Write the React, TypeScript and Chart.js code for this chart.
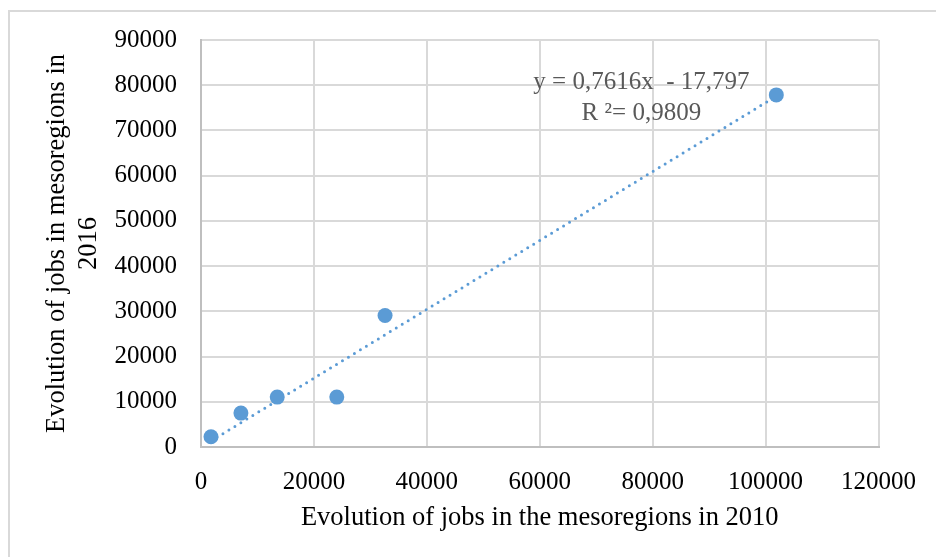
import React, { useEffect, useRef } from "react";
import { Chart, registerables } from "chart.js";

Chart.register(...registerables);

const jobs2010: number[] = [1770, 7070, 13500, 24050, 32600, 101900];
const jobs2016: number[] = [2270, 7500, 11040, 11040, 29070, 77860];
const trendSlope = 0.7616;
const trendIntercept = -17.797;
const equationLines: string[] = ["y = 0,7616x  - 17,797", "R \u00b2= 0,9809"];
const equationAnchor = { x: 78000, y: 80600 };
const xTitle = "Evolution of jobs in the mesoregions in 2010";
const yTitle: string[] = ["Evolution of jobs in mesoregions in", "2016"];

const FONT = "'Liberation Serif', 'Times New Roman', serif";
const BLUE = "#5b9bd5";

export default function App() {
  const ref = useRef<HTMLCanvasElement | null>(null);

  useEffect(() => {
    if (!ref.current) return;
    const xs = jobs2010;
    const xmin = Math.min(...xs);
    const xmax = Math.max(...xs);
    const trend = [
      { x: xmin, y: trendSlope * xmin + trendIntercept },
      { x: xmax, y: trendSlope * xmax + trendIntercept },
    ];
    const points = jobs2010.map((x, i) => ({ x, y: jobs2016[i] }));

    const framePlugin = {
      id: "frame",
      beforeDraw(chart: any) {
        const ctx = chart.ctx;
        ctx.save();
        ctx.fillStyle = "#ffffff";
        ctx.fillRect(0, 0, chart.width, chart.height);
        ctx.strokeStyle = "#d9d9d9";
        ctx.lineWidth = 2;
        ctx.strokeRect(9, 11, 2000, 2000);
        ctx.restore();
      },
      afterDatasetsDraw(chart: any) {
        const ctx = chart.ctx;
        const xs = chart.scales.x;
        const ys = chart.scales.y;
        const cx = xs.getPixelForValue(equationAnchor.x);
        const cy = ys.getPixelForValue(equationAnchor.y);
        ctx.save();
        ctx.font = `25px ${FONT}`;
        ctx.fillStyle = "#595959";
        ctx.textAlign = "center";
        ctx.textBaseline = "middle";
        equationLines.forEach((t, i) => ctx.fillText(t, cx, cy + i * 31));
        ctx.restore();
      },
    };

    const chart = new Chart(ref.current, {
      type: "scatter",
      data: {
        datasets: [
          {
            type: "scatter",
            data: points,
            backgroundColor: BLUE,
            borderColor: BLUE,
            pointRadius: 7.5,
            pointBorderWidth: 0,
            order: 0,
          } as any,
          {
            type: "line",
            data: trend,
            borderColor: BLUE,
            borderWidth: 3,
            borderDash: [0, 7],
            borderCapStyle: "round",
            pointRadius: 0,
            fill: false,
            order: 1,
          } as any,
        ],
      },
      options: {
        responsive: false,
        animation: false,
        layout: { padding: { left: 0, right: 56, top: 40, bottom: 0 } },
        plugins: { legend: { display: false }, tooltip: { enabled: false } },
        scales: {
          x: {
            type: "linear",
            min: 0,
            max: 120000,
            ticks: {
              stepSize: 20000,
              padding: 20,
              color: "#000",
              font: { family: FONT, size: 25, lineHeight: 1.2 },
              callback: (v: any) => String(v),
            },
            grid: { color: "#d9d9d9", lineWidth: 2, drawTicks: false },
            border: { color: "#bfbfbf", width: 2 },
            title: {
              display: true,
              text: xTitle,
              color: "#000",
              font: { family: FONT, size: 26.5, lineHeight: 1.2 },
              padding: { top: 0, bottom: 23 },
            },
            afterFit: (s: any) => {
              s.height = 110;
            },
          },
          y: {
            type: "linear",
            min: 0,
            max: 90000,
            ticks: {
              stepSize: 10000,
              padding: 24,
              color: "#000",
              font: { family: FONT, size: 25, lineHeight: 1.2 },
              callback: (v: any) => String(v),
            },
            grid: { color: "#d9d9d9", lineWidth: 2, drawTicks: false },
            border: { color: "#bfbfbf", width: 2 },
            title: {
              display: true,
              text: yTitle,
              color: "#000",
              font: { family: FONT, size: 26.5, lineHeight: 1.21 },
              padding: { top: 41, bottom: 0 },
            },
            afterFit: (s: any) => {
              s.width = 201;
            },
          },
        },
      },
      plugins: [framePlugin],
    } as any);
    return () => chart.destroy();
  }, []);

  return (
    <div style={{ position: "absolute", left: 0, top: 0, width: 936, height: 557, background: "#fff" }}>
      <canvas ref={ref} width={936} height={557} style={{ display: "block" }} />
    </div>
  );
}
